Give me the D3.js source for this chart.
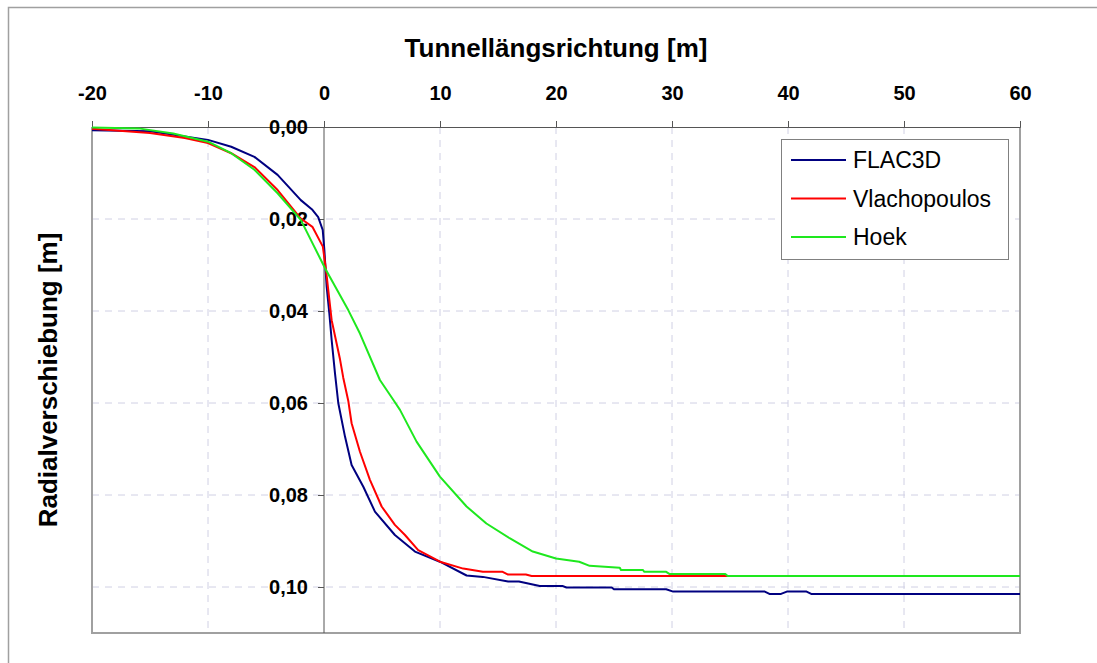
<!DOCTYPE html>
<html>
<head>
<meta charset="utf-8">
<script src="https://cdn.jsdelivr.net/npm/d3@7"></script>
<style>
  body { margin: 0; background: #fff; }
  svg { display: block; font-family: "Liberation Sans", Arial, sans-serif; }
</style>
</head>
<body>
<div id="chart"></div>
<script>
// Tick values
const xTicks = [-20, -10, 0, 10, 20, 30, 40, 50, 60];
const yTicks = [0, 0.02, 0.04, 0.06, 0.08, 0.10];

// FLAC3D
const flacX = [-20, -15, -10, -8, -6, -4, -2, -1, -0.5, -0.11, 0.03, 0.23, 0.46, 0.66, 0.95, 1.23, 1.81, 2.38, 3.39, 4.39, 6.11, 7.84, 9.99, 12.29, 13.7, 15.87, 16.8, 18.6, 20.6, 20.9, 24.8, 25, 29.5, 30.1, 38, 38.4, 39.4, 39.9, 41.6, 42, 60];
const flacY = [0.0007, 0.0009, 0.0028, 0.0043, 0.0065, 0.0104, 0.0159, 0.018, 0.0196, 0.0224, 0.0267, 0.0347, 0.0405, 0.0463, 0.0536, 0.060, 0.0673, 0.0735, 0.0782, 0.0836, 0.0887, 0.0923, 0.0945, 0.0975, 0.0978, 0.0988, 0.0988, 0.0998, 0.0998, 0.1001, 0.1001, 0.1005, 0.1005, 0.1010, 0.1010, 0.1015, 0.1015, 0.1010, 0.1010, 0.1015, 0.1015];

// Vlachopoulos
const vlaX = [-20, -15, -12, -10, -8, -6, -4, -2, -1, -0.1, 0.17, 0.66, 1.38, 1.66, 2.09, 2.38, 3.1, 3.96, 4.97, 6.11, 6.98, 8.12, 10, 12, 13.7, 15.4, 15.87, 17.4, 17.9, 34.8];
const vlaY = [0.0004, 0.0013, 0.0024, 0.0035, 0.0057, 0.0087, 0.0137, 0.0199, 0.0217, 0.026, 0.031, 0.042, 0.0505, 0.0545, 0.0595, 0.0644, 0.0706, 0.0767, 0.0825, 0.0865, 0.0887, 0.092, 0.0945, 0.096, 0.0967, 0.0967, 0.0973, 0.0973, 0.0976, 0.0976];

// Hoek
const hoekX = [-20, -16, -13, -10, -8, -6, -4, -2, 0.09, 2.09, 3.1, 4.82, 5.97, 6.55, 7.98, 9.99, 12.29, 14, 16, 18, 20, 22, 22.9, 25.5, 25.6, 27.5, 27.6, 29.5, 29.8, 34.6, 34.8, 60];
const hoekY = [0.0001, 0.0003, 0.0014, 0.0032, 0.0057, 0.0093, 0.0144, 0.0202, 0.0307, 0.0398, 0.0449, 0.055, 0.0593, 0.0615, 0.0684, 0.076, 0.0825, 0.0862, 0.0894, 0.0923, 0.0938, 0.0945, 0.0954, 0.0958, 0.0963, 0.0963, 0.0967, 0.0967, 0.0972, 0.0972, 0.0976, 0.0976];

const seriesNames = ["FLAC3D", "Vlachopoulos", "Hoek"];
const seriesColors = ["#000080", "#ff0000", "#1ee81e"];

const series = [
  { name: seriesNames[0], color: seriesColors[0], pts: flacX.map((x, i) => [x, flacY[i]]) },
  { name: seriesNames[1], color: seriesColors[1], pts: vlaX.map((x, i) => [x, vlaY[i]]) },
  { name: seriesNames[2], color: seriesColors[2], pts: hoekX.map((x, i) => [x, hoekY[i]]) }
];

const W = 1097, H = 663;
const plot = { left: 92, right: 1020, top: 127, bottom: 633 };

const svg = d3.select("#chart").append("svg")
  .attr("width", W)
  .attr("height", H);

// outer frame (right/bottom edges run off the picture)
svg.append("rect")
  .attr("x", 8.5).attr("y", 7.5)
  .attr("width", 1100).attr("height", 660)
  .attr("fill", "#fff")
  .attr("stroke", "#a0a0a0")
  .attr("stroke-width", 1.5);

const x = d3.scaleLinear().domain([-20, 60]).range([plot.left, plot.right]);
const y = d3.scaleLinear().domain([0, 0.11]).range([plot.top, plot.bottom]);

// grid
svg.append("g")
  .selectAll("line")
  .data(xTicks.filter(d => d !== 0 && d !== -20 && d !== 60))
  .join("line")
  .attr("x1", d => x(d)).attr("x2", d => x(d))
  .attr("y1", plot.top).attr("y2", plot.bottom)
  .attr("stroke", "#d0d0e4")
  .attr("stroke-dasharray", "7,6");

svg.append("g")
  .selectAll("line")
  .data(yTicks.filter(d => d !== 0))
  .join("line")
  .attr("x1", plot.left).attr("x2", plot.right)
  .attr("y1", d => y(d)).attr("y2", d => y(d))
  .attr("stroke", "#d0d0e4")
  .attr("stroke-dasharray", "7,6");

// plot border (left, right, bottom)
svg.append("path")
  .attr("d", `M${plot.left},${plot.top} V${plot.bottom} H${plot.right} V${plot.top}`)
  .attr("fill", "none")
  .attr("stroke", "#a0a0a0")
  .attr("stroke-width", 2);

// X axis on top
const xAxis = svg.append("g")
  .attr("transform", `translate(0,${plot.top})`)
  .call(d3.axisTop(x).tickValues(xTicks).tickSize(6).tickPadding(21).tickFormat(d => String(d)));
xAxis.select(".domain").attr("stroke", "#555");
xAxis.selectAll(".tick line").attr("stroke", "#555");
xAxis.selectAll("text")
  .attr("font-size", "20px")
  .attr("font-weight", "bold")
  .attr("fill", "#000")
  .attr("font-family", "'Liberation Sans', Arial, sans-serif");

// Y axis through x = 0
const yAxis = svg.append("g")
  .attr("transform", `translate(${x(0)},0)`)
  .call(d3.axisLeft(y).tickValues(yTicks).tickSize(6).tickPadding(10)
    .tickFormat(d => d3.format(".2f")(d).replace(".", ",")));
yAxis.select(".domain").attr("stroke", "#555").attr("d", `M0,${plot.top}V${plot.bottom}`);
yAxis.selectAll(".tick line").attr("stroke", "#555");
yAxis.selectAll("text")
  .attr("font-size", "20px")
  .attr("font-weight", "bold")
  .attr("fill", "#000")
  .attr("font-family", "'Liberation Sans', Arial, sans-serif");

// lines
const line = d3.line().x(d => x(d[0])).y(d => y(d[1]));
svg.append("g")
  .selectAll("path")
  .data(series)
  .join("path")
  .attr("d", d => line(d.pts))
  .attr("fill", "none")
  .attr("stroke", d => d.color)
  .attr("stroke-width", 2)
  .attr("stroke-linejoin", "round");

// titles
svg.append("text")
  .attr("x", (plot.left + plot.right) / 2)
  .attr("y", 57)
  .attr("text-anchor", "middle")
  .attr("font-size", "26px")
  .attr("font-weight", "bold")
  .text("Tunnellängsrichtung [m]");

svg.append("text")
  .attr("transform", `translate(57,${(plot.top + plot.bottom) / 2}) rotate(-90)`)
  .attr("text-anchor", "middle")
  .attr("font-size", "26px")
  .attr("font-weight", "bold")
  .text("Radialverschiebung [m]");

// legend
const legend = svg.append("g").attr("transform", "translate(781,139)");
legend.append("rect")
  .attr("x", 0.5).attr("y", 0.5)
  .attr("width", 227).attr("height", 120)
  .attr("fill", "#fff")
  .attr("stroke", "#808080");
const item = legend.selectAll("g")
  .data(series)
  .join("g")
  .attr("transform", (d, i) => `translate(0,${21 + i * 38.5})`);
item.append("line")
  .attr("x1", 10).attr("x2", 65)
  .attr("stroke", d => d.color)
  .attr("stroke-width", 2);
item.append("text")
  .attr("x", 72)
  .attr("dy", "0.36em")
  .attr("font-size", "23px")
  .text(d => d.name);
</script>
</body>
</html>
